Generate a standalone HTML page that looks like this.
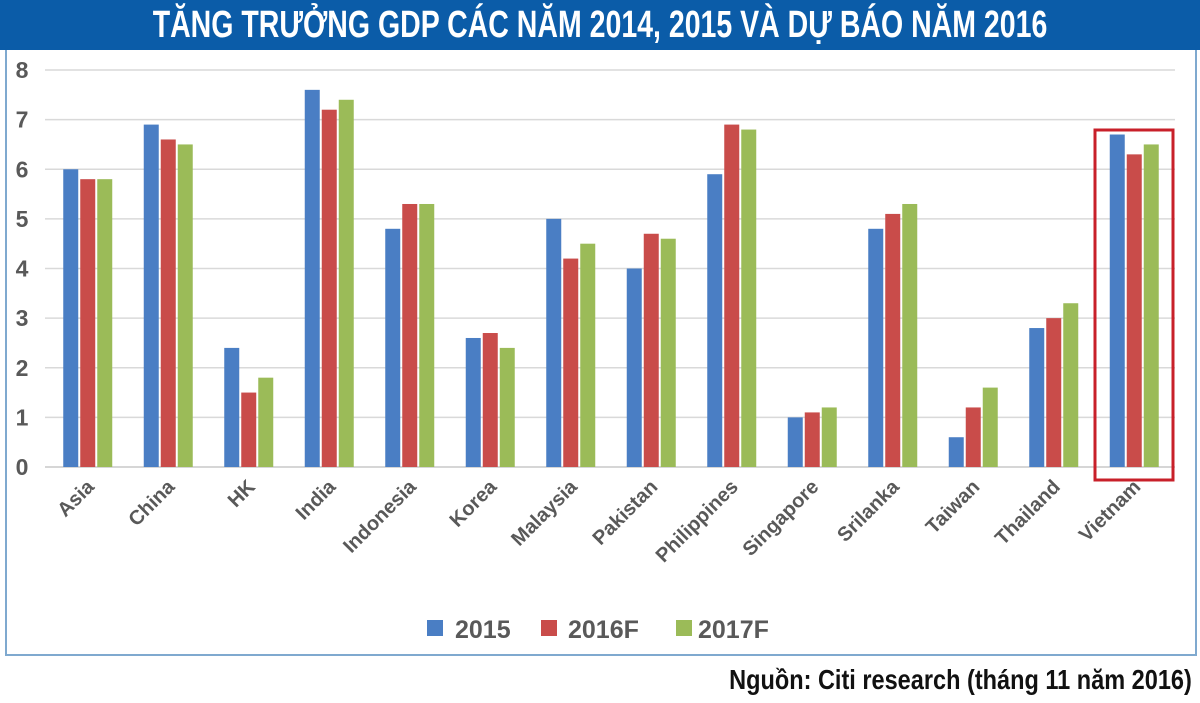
<!DOCTYPE html>
<html><head><meta charset="utf-8"><style>
body{margin:0;width:1200px;height:703px;background:#fff;overflow:hidden;font-family:"Liberation Sans",sans-serif}
#title{position:absolute;left:0;top:0;width:1200px;height:50px;background:#0b5ca8}
#title span{position:absolute;left:600px;top:3px;white-space:nowrap;color:#fff;font:bold 38px/44px "Liberation Sans",sans-serif;transform:translateX(-50%) scaleX(0.75);transform-origin:50% 50%}
#frame{position:absolute;left:5px;top:50px;width:1188px;height:604px;border:2px solid #7fa9cf;border-top:none}
#src{position:absolute;right:8px;top:664px;font:bold 28px "Liberation Sans",sans-serif;color:#111;transform:scaleX(0.84);transform-origin:100% 50%;white-space:nowrap}
</style></head><body>
<div id="title"><span>TĂNG TRƯỞNG GDP CÁC NĂM 2014, 2015 VÀ DỰ BÁO NĂM 2016</span></div>
<div id="frame"></div>
<svg id="chart" width="1200" height="703" style="position:absolute;left:0;top:0"></svg>
<div id="src">Nguồn: Citi research (tháng 11 năm 2016)</div>
<script>
const categories=["Asia","China","HK","India","Indonesia","Korea","Malaysia","Pakistan","Philippines","Singapore","Srilanka","Taiwan","Thailand","Vietnam"];
const s2015=[6.0,6.9,2.4,7.6,4.8,2.6,5.0,4.0,5.9,1.0,4.8,0.6,2.8,6.7];
const s2016=[5.8,6.6,1.5,7.2,5.3,2.7,4.2,4.7,6.9,1.1,5.1,1.2,3.0,6.3];
const s2017=[5.8,6.5,1.8,7.4,5.3,2.4,4.5,4.6,6.8,1.2,5.3,1.6,3.3,6.5];
const yTicks=[0,1,2,3,4,5,6,7,8];
const seriesNames=["2015","2016F","2017F"];
const colors=["#4a7ec4","#c94c4a","#9bbb58"];
const NS="http://www.w3.org/2000/svg";
const svg=document.getElementById('chart');
const x0=47,x1=1174,yBase=467,yTop=70,yMax=8;
const band=(x1-x0)/categories.length;
const y=v=>yBase-(v/yMax)*(yBase-yTop);
const xc=i=>x0+band*(i+0.5);
function mk(t,a){const e=document.createElementNS(NS,t);for(const k in a)e.setAttribute(k,a[k]);svg.appendChild(e);return e;}
yTicks.forEach(t=>{
  const g=mk('line',{x1:45,x2:1175,y1:y(t),y2:y(t),stroke:t==0?'#c8c8c8':'#d9d9d9','stroke-width':1.5});
  
  
  const l=mk('text',{x:22,y:y(t)+8,'text-anchor':'middle','font-size':23,'font-weight':'bold',fill:'#595959'});
  l.textContent=t;
  
  
});
const series=[s2015,s2016,s2017];
const bw=15,step=17;
categories.forEach((c,i)=>{
  series.forEach((s,j)=>{
    const bx=xc(i)-24+j*step;
    const r=mk('rect',{x:bx,y:y(s[i]),width:bw,height:yBase-y(s[i]),fill:colors[j]});
    
    
  });
  const tx=xc(i)+8,ty=488;
  const t=mk('text',{x:tx,y:ty,'text-anchor':'end','font-size':20,'font-weight':'bold',fill:'#595959',transform:`rotate(-45 ${tx} ${ty})`});
  t.textContent=c;
  
  
});
const hl=mk('rect',{x:1095,y:130,width:78,height:350,fill:'none',stroke:'#c8202a','stroke-width':3});


const lx=[427,541,676];
const ltx=[455,568,698];
seriesNames.forEach((n,j)=>{
  const sq=mk('rect',{x:lx[j],y:620,width:16,height:16,fill:colors[j]});
  
  
  const t=mk('text',{x:ltx[j],y:638,'font-size':25,'font-weight':'bold',fill:'#595959'});
  t.textContent=n;
  
  
});
</script>
</body></html>
